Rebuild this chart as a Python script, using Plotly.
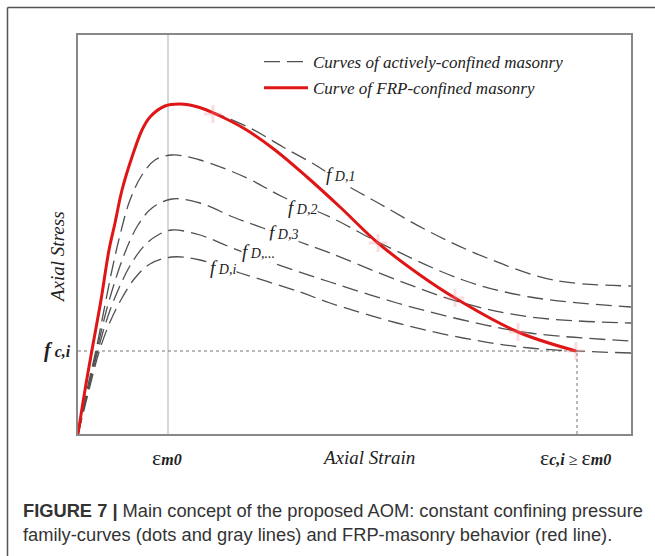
import plotly.graph_objects as go

# ---- data (arbitrary strain / stress units) ----
# FRP-confined masonry (red)
red_x = [0, 7, 14, 23, 31, 37, 44, 54, 64, 72, 87, 102, 120, 142, 167, 197, 229, 262, 300, 342, 377, 440, 498]
red_y = [0, 44, 84, 134, 184, 211, 244, 277, 304, 317, 328, 330, 327, 318, 305, 284, 257, 227, 191, 159, 136, 102, 83]

# actively-confined family (dashed)
d1_x = [0, 7, 14, 23, 31, 37, 44, 54, 64, 72, 87, 102, 120, 142, 172, 205, 239, 265, 302, 352, 409, 475, 553]
d1_y = [0, 44, 84, 134, 184, 211, 244, 277, 304, 317, 328, 330, 327, 319, 306, 287, 268, 251, 230, 202, 176, 154, 148]

d2_x = [0, 9, 18, 26, 34, 42, 52, 64, 77, 94, 122, 169, 205, 252, 302, 385, 452, 553]
d2_y = [0, 44, 84, 124, 164, 199, 234, 259, 274, 279, 274, 256, 237, 217, 191, 154, 137, 127]

d3_x = [0, 10, 19, 28, 38, 48, 60, 74, 94, 122, 155, 185, 222, 252, 319, 385, 452, 553]
d3_y = [0, 44, 84, 122, 156, 184, 209, 226, 235, 231, 217, 206, 192, 181, 154, 131, 117, 111]

d4_x = [0, 10, 20, 30, 41, 53, 67, 80, 94, 122, 152, 192, 252, 319, 385, 452, 553]
d4_y = [0, 44, 84, 118, 146, 170, 189, 199, 204, 199, 187, 172, 152, 131, 114, 101, 93]

d5_x = [0, 11, 21, 32, 44, 57, 72, 94, 122, 162, 222, 252, 319, 385, 452, 553]
d5_y = [0, 44, 82, 112, 136, 156, 170, 177, 174, 161, 142, 131, 111, 96, 86, 81]

family = [(d1_x, d1_y), (d2_x, d2_y), (d3_x, d3_y), (d4_x, d4_y), (d5_x, d5_y)]
family_labels = ["D,1", "D,2", "D,3", "D,...", "D,i"]

# intersection points of the red curve with the family
cross_x = [135, 300, 377, 440, 498]
cross_y = [320, 191, 136, 102, 83]

eps_m0 = 90          # strain at peak of unconfined masonry
eps_ci = 499         # ultimate strain of FRP-confined masonry
f_ci = 83            # stress at ultimate strain

legend_names = ["Curves of actively-confined masonry", "Curve of FRP-confined masonry"]
caption_bold = "FIGURE 7 |"
caption_1 = " Main concept of the proposed AOM: constant confining pressure"
caption_2 = "family-curves (dots and gray lines) and FRP-masonry behavior (red line)."

# ---- layout helpers (pixel -> paper) ----
L, R, T, B = 78, 631, 35, 434
def px(x):
    return (x - L) / (R - L)
def py(y):
    return (B - y) / (B - T)

SERIF = "Liberation Serif"
fig = go.Figure()

for i, (xs, ys) in enumerate(family):
    fig.add_trace(go.Scatter(
        x=xs, y=ys, mode="lines",
        line=dict(color="#505050", width=1.3, dash="16px,7px", shape="spline", smoothing=1.0),
        name=legend_names[0], legendgroup="a", showlegend=(i == 0), hoverinfo="skip"))

fig.add_trace(go.Scatter(
    x=red_x, y=red_y, mode="lines", line=dict(color="#e01515", width=3, shape="spline", smoothing=1.0),
    name=legend_names[1], legendgroup="b", showlegend=True, hoverinfo="skip"))

fig.add_trace(go.Scatter(
    x=cross_x, y=cross_y, mode="markers",
    marker=dict(symbol="cross-thin-open", size=13, opacity=0.3, color="#f08c96",
                line=dict(color="#f08c96", width=3)),
    showlegend=False, hoverinfo="skip"))

shapes = [
    dict(type="line", xref="x", yref="y", x0=eps_m0, x1=eps_m0, y0=0, y1=399,
         line=dict(color="#bbbbbb", width=1.2), layer="below"),
    dict(type="line", xref="x", yref="y", x0=0, x1=eps_ci, y0=f_ci, y1=f_ci,
         line=dict(color="#777777", width=1, dash="3px,3px"), layer="below"),
    dict(type="line", xref="x", yref="y", x0=eps_ci, x1=eps_ci, y0=0, y1=f_ci,
         line=dict(color="#777777", width=1, dash="3px,3px"), layer="below"),
    dict(type="line", xref="paper", yref="paper", x0=px(7.5), x1=px(7.5), y0=py(7.5), y1=py(560),
         line=dict(color="#555555", width=1.5)),
    dict(type="line", xref="paper", yref="paper", x0=px(7.5), x1=px(660), y0=py(7.5), y1=py(7.5),
         line=dict(color="#555555", width=1.5)),
]

ann = []
def add_text(x, y, text, size, angle=0, family=SERIF, color="#222222", xanchor="center", bg=None):
    d = dict(xref="paper", yref="paper", x=px(x), y=py(y), text=text, showarrow=False,
             xanchor=xanchor, yanchor="middle", textangle=angle,
             font=dict(family=family, size=size, color=color))
    if bg:
        d["bgcolor"] = bg
        d["borderpad"] = 0
    ann.append(d)

label_pos = [(340, 174), (302, 207), (283, 232), (258, 251), (223, 267)]
for (x, y), lab in zip(label_pos, family_labels):
    add_text(x, y, "<i><span style='font-size:19px'>f</span> " + lab + "</i>", 14, bg="white")

add_text(57, 257, "<i>Axial Stress</i>", 19, angle=-90)
add_text(368, 457, "<i>Axial Strain</i>", 19)
add_text(57, 350, "<b><i><span style='font-size:20px'>f</span> c,i</i></b>", 16)
add_text(167, 457, "<span style='font-size:22px'>ε</span><b><i>m0</i></b>", 16)
add_text(575, 457, "<span style='font-size:22px'>ε</span><b><i>c,i</i></b> ≥ <span style='font-size:22px'>ε</span><b><i>m0</i></b>", 16)

add_text(21, 510, "<b>" + caption_bold + "</b>" + caption_1, 18.3, family="Liberation Sans", color="#333333", xanchor="left")
add_text(21, 534, caption_2, 18.3, family="Liberation Sans", color="#333333", xanchor="left")

fig.update_layout(
    width=655, height=556,
    margin=dict(l=L, r=655 - R, t=T, b=556 - B),
    paper_bgcolor="white", plot_bgcolor="white",
    shapes=shapes, annotations=ann,
    showlegend=True,
    legend=dict(x=px(259), y=py(44), xanchor="left", yanchor="top", bgcolor="rgba(0,0,0,0)",
                font=dict(family=SERIF, size=17, color="#222222", style="italic"),
                tracegroupgap=1, itemwidth=44),
    xaxis=dict(range=[0, 553], showgrid=False, zeroline=False, showticklabels=False, ticks="",
               showline=True, mirror=True, linecolor="#888888", linewidth=1.5, fixedrange=True),
    yaxis=dict(range=[0, 399], showgrid=False, zeroline=False, showticklabels=False, ticks="",
               showline=True, mirror=True, linecolor="#888888", linewidth=1.5, fixedrange=True),
)

fig.write_html("out.html")
